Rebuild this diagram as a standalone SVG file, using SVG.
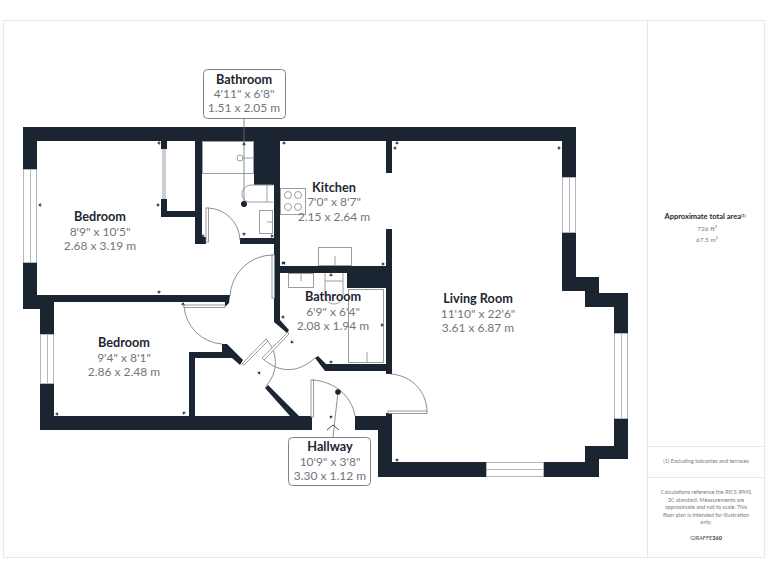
<svg xmlns="http://www.w3.org/2000/svg" width="768" height="576" viewBox="0 0 768 576">
<style>
text{font-family:"Lato","Noto Sans",sans-serif;text-anchor:middle}
.t{font-size:12.700px;font-weight:700;fill:#1d2632}
.d{font-size:12px;fill:#70767d}
.wall{fill:#1b2431;stroke:none}
.win{fill:#fff;stroke:#b4b7bb;stroke-width:1}
.fx{fill:#fff;stroke:#9a9ea3;stroke-width:1}
.fx2{fill:none;stroke:#9a9ea3;stroke-width:1}
.arc{fill:none;stroke:#6d737a;stroke-width:.8}
.leaf{fill:#fff;stroke:#808489;stroke-width:.8}
.box{fill:#fff;stroke:#7e8388;stroke-width:1}
.s{font-size:5.500px;fill:#777b80}
.mk{stroke:#1b2431;stroke-width:.8;fill:none}
.page{fill:none;stroke:#e8e8e8;stroke-width:1}
.tk{fill:#1b2431;stroke:#1b2431;stroke-width:.4}
</style>
<defs><path id="tk" class="tk" d="M-1.500 0.500L0 -1.500L1.500 0.500ZM0 0.500V2"/></defs>
<rect width="768" height="576" fill="#fff"/>
<g id="page">
<path class="page" d="M764.500 20.500H3.500V557.500H764.500ZM647.500 20V557M647 446.500H765M647 477.500H765"/>
</g>
<g id="walls">
<path class="wall" fill-rule="evenodd" d="M23 127H576V277H599V293H628V459H599V477H378V430H355V416H312V430H40V309H23ZM37 141V295H229V296H37V302H54V416H189V352H222V344H227L243 360L240 365L232 358H195V416H290L265 388L268 385L299 416H312V416H355V416H386V413H392V374H386V371H325L315 358L318 356L326 364H386V288H347V273H280V320L289 330L287 333L274 322V244H240V238H274V185H254V141H202V237H206V244H195V217H161V199H167V211H195V141H167V149H161V141ZM280 141V266H386V229H392V462H585V446H614V307H585V291H562V141H392V173H386V141Z"/>
<path class="wall" d="M37 295H230L229 303L226 306H225V302H37Z"/>
</g>
<g id="windows">
<path class="win" d="M23.500 169.500H36.500V262.500H23.500ZM30.500 169V263M40.500 334.500H53.500V383.500H40.500ZM47.500 334V384M562.500 177.500H575.500V232.500H562.500ZM569.500 177V233M614.500 333.500H627.500V418.500H614.500ZM621.500 333V419M486.500 462.500H543.500V476.500H486.500ZM486 469.500H544"/>
</g>
<g id="fixtures">
<path class="fx2" d="M163 149V199M165 149V199"/>
<rect class="fx" x="202.500" y="141.500" width="51" height="32"/>
<circle class="fx2" cx="240" cy="158" r="3"/><path class="fx2" d="M243 158H254"/>
<path class="fx2" d="M273 185H252C245 185 242 190 242 194C242 198 245 202 250 202H273M267 185V202"/>
<rect class="fx" x="259.500" y="210.500" width="13" height="23"/><path class="fx2" d="M267 222H273"/>
<rect class="fx" x="280.500" y="188.500" width="25" height="26"/>
<circle class="fx2" cx="288" cy="195" r="3.500"/><circle class="fx2" cx="298" cy="195" r="3.500"/><circle class="fx2" cx="288" cy="207" r="3.500"/><circle class="fx2" cx="298" cy="207" r="3.500"/>
<rect class="fx" x="318.500" y="247.500" width="33" height="18"/><path class="fx2" d="M335 256V266"/>
<rect class="fx" x="288.500" y="273.500" width="25" height="14"/><path class="fx2" d="M301 273V281"/>
<path class="fx2" d="M325 273V294C325 300 329 304 334 304C339 304 343 300 343 294V273M325 281H343"/>
<rect class="fx" x="348.500" y="289.500" width="35" height="73"/><path class="fx2" d="M367 352V363"/>
</g>
<g id="doors">
<path class="arc" d="M207 208A33 33 0 0 1 240 240M273 255A43 43 0 0 0 230 296M184 306A41 41 0 0 0 222 344M266 339A34 34 0 0 1 266 386M262 358C280 374 298 373 315 358M312 380C335 381 352 397 355 416M390 374C412 375 427 392 427 412"/>
<rect class="leaf" x="206" y="208" width="2.500" height="34"/>
<rect class="leaf" x="272" y="255" width="2.500" height="43"/>
<rect class="leaf" x="184" y="305" width="41" height="2.500"/>
<path class="leaf" d="M242 364L266 339L268 341L244 365ZM262 358L288 332L289 334L264 360Z"/>
<rect class="leaf" x="311" y="380" width="2.500" height="37"/>
<rect class="leaf" x="388" y="411" width="39" height="2.500"/>
</g>
<g id="connectors">
<path class="arc" d="M244 119V204M338 392L333 437"/>
<path class="mk" d="M327 430L333 425L339 430"/>
<circle cx="244" cy="204" r="3" fill="#1b2431"/>
<circle cx="338" cy="392" r="2.800" fill="#1b2431"/>
</g>
<g id="ticks">
<use href="#tk" transform="translate(244 144)"/>
<use href="#tk" transform="translate(284 143)"/>
<use href="#tk" transform="translate(397 143)"/>
<use href="#tk" transform="translate(331 275)"/>
<use href="#tk" transform="translate(183 304)"/>
<use href="#tk" transform="translate(395 148) rotate(-90)"/>
<use href="#tk" transform="translate(40 205) rotate(-90)"/>
<use href="#tk" transform="translate(203 236) rotate(-90)"/>
<use href="#tk" transform="translate(283 317) rotate(-90)"/>
<use href="#tk" transform="translate(57 414) rotate(-90)"/>
<use href="#tk" transform="translate(159 143) rotate(-90)"/>
<use href="#tk" transform="translate(559 148) rotate(90)"/>
<use href="#tk" transform="translate(158 205) rotate(90)"/>
<use href="#tk" transform="translate(272 236) rotate(90)"/>
<use href="#tk" transform="translate(383 264) rotate(90)"/>
<use href="#tk" transform="translate(382 325) rotate(90)"/>
<use href="#tk" transform="translate(159 292) rotate(180)"/>
<use href="#tk" transform="translate(244 234) rotate(180)"/>
<use href="#tk" transform="translate(331 362) rotate(180)"/>
<use href="#tk" transform="translate(397 460) rotate(180)"/>
<use href="#tk" transform="translate(284 263) rotate(45)"/>
<use href="#tk" transform="translate(283 263) rotate(-45)"/>
<use href="#tk" transform="translate(184 413) rotate(-45)"/>
<use href="#tk" transform="translate(292 342) rotate(-135)"/>
<use href="#tk" transform="translate(259 373) rotate(45)"/>
<use href="#tk" transform="translate(331 417) rotate(-45)"/>
</g>
<g id="bathroom-callout">
<rect class="box" x="203.500" y="69.500" width="82" height="49" rx="4"/>
<text class="t" x="244" y="84">Bathroom</text><text class="d" x="244" y="98">4'11" x 6'8"</text><text class="d" x="244" y="112">1.51 x 2.05 m</text>
</g>
<g id="hallway-callout">
<rect class="box" x="288.500" y="437.500" width="82" height="48" rx="4"/>
<text class="t" x="330" y="451">Hallway</text><text class="d" x="330" y="466">10'9" x 3'8"</text><text class="d" x="330" y="480">3.30 x 1.12 m</text>
</g>
<g id="bedroom-1"><text class="t" x="100" y="221">Bedroom</text><text class="d" x="100" y="236">8'9" x 10'5"</text><text class="d" x="100" y="250">2.68 x 3.19 m</text></g>
<g id="bedroom-2"><text class="t" x="124" y="347">Bedroom</text><text class="d" x="124" y="362">9'4" x 8'1"</text><text class="d" x="124" y="376">2.86 x 2.48 m</text></g>
<g id="kitchen"><text class="t" x="334" y="192">Kitchen</text><text class="d" x="334" y="206">7'0" x 8'7"</text><text class="d" x="334" y="221">2.15 x 2.64 m</text></g>
<g id="bathroom-2"><text class="t" x="333" y="301">Bathroom</text><text class="d" x="333" y="316">6'9" x 6'4"</text><text class="d" x="333" y="330">2.08 x 1.94 m</text></g>
<g id="living-room"><text class="t" x="478" y="303">Living Room</text><text class="d" x="478" y="318">11'10" x 22'6"</text><text class="d" x="478" y="332">3.61 x 6.87 m</text></g>
<g id="sidebar">
<text x="705" y="219" font-size="7.500" font-weight="700" fill="#1d2632">Approximate total area<tspan font-size="4" dy="-2.500">(1)</tspan></text>
<text class="s" x="707" y="231" style="font-size:6.500px">726 ft²</text>
<text class="s" x="707" y="242" style="font-size:6.500px">67.5 m²</text>
<text class="s" x="706" y="463">(1) Excluding balconies and terraces</text>
<text class="s" x="706" y="494">Calculations reference the RICS IPMS</text>
<text class="s" x="706" y="501.500">3C standard. Measurements are</text>
<text class="s" x="706" y="509">approximate and not to scale. This</text>
<text class="s" x="706" y="516.500">floor plan is intended for illustration</text>
<text class="s" x="706" y="524">only.</text>
<text x="706" y="539.500" font-size="5.500" fill="#444a52">GIRAFFE<tspan font-weight="900">360</tspan></text>
</g>
</svg>
